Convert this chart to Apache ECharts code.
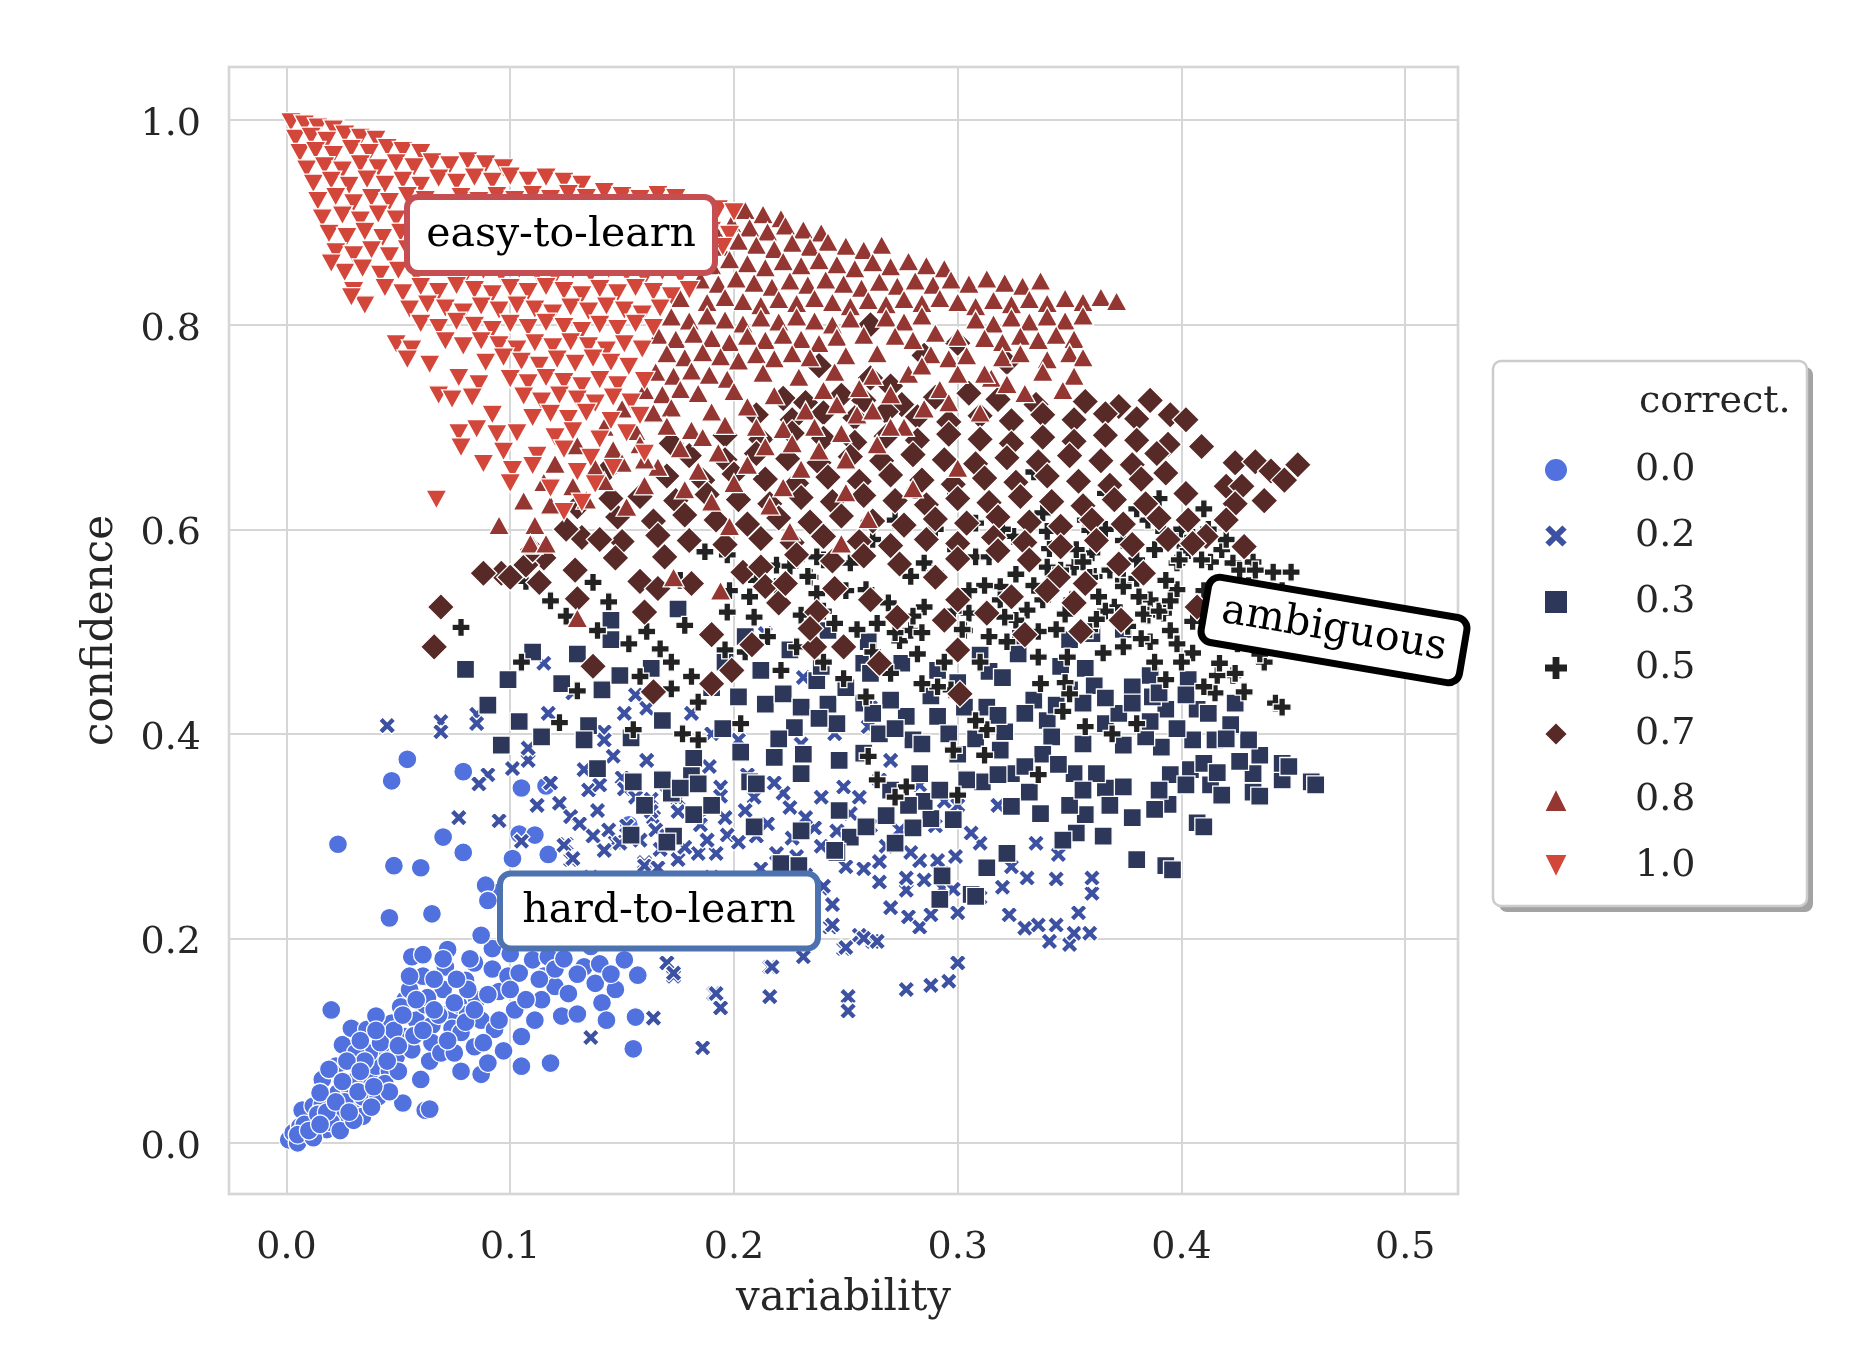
<!DOCTYPE html>
<html><head><meta charset="utf-8">
<script src="https://cdn.jsdelivr.net/npm/echarts@6/dist/echarts.min.js"></script>
<style>html,body{margin:0;padding:0;background:#fff}#c{width:1876px;height:1364px}</style>
</head><body><div id="c"></div>
<script>
const categories = ['0.0','0.2','0.3','0.5','0.7','0.8','1.0'];
const xTickStep = 0.1;
const yTickStep = 0.2;

const pts00 = [[.001,.003],[.003,.010],[.006,.016],[.010,.023],[.007,.032],[.012,.036],[.016,.037],[.018,.013],[.022,.026],[.023,.049],[.028,.054],[.022,.075],[.016,.062],[.029,.039],[.034,.045],[.034,.026],[.037,.062],[.040,.075],[.041,.045],[.044,.091],[.047,.117],[.046,.070],[.025,.096],[.029,.112],[.036,.111],[.040,.124],[.037,.088],[.031,.088],[.043,.101],[.049,.084],[.053,.104],[.053,.140],[.055,.150],[.058,.120],[.060,.062],[.056,.091],[.061,.163],[.062,.135],[.065,.115],[.065,.098],[.064,.080],[.069,.088],[.071,.172],[.070,.150],[.073,.127],[.074,.112],[.075,.088],[.077,.135],[.078,.070],[.080,.159],[.081,.126],[.084,.176],[.084,.094],[.087,.120],[.087,.067],[.090,.078],[.092,.170],[.093,.111],[.095,.148],[.099,.163],[.102,.130],[.105,.075],[.105,.104],[.104,.166],[.110,.179],[.111,.120],[.115,.163],[.117,.182],[.120,.153],[.123,.124],[.126,.146],[.130,.126],[.133,.172],[.138,.156],[.141,.137],[.143,.120],[.147,.150],[.151,.179],[.056,.182],[.061,.184],[.072,.189],[.055,.163],[.051,.133],[.015,.049],[.019,.072],[.005,.000],[.075,.137],[.062,.032],[.052,.039],[.042,.098],[.008,.018],[.014,.028],[.020,.020],[.026,.040],[.030,.060],[.035,.080],[.044,.058],[.050,.070],[.057,.105],[.063,.142],[.068,.125],[.078,.108],[.085,.140],[.092,.190],[.098,.200],[.106,.210],[.112,.200],[.120,.215],[.128,.200],[.136,.192],[.100,.225],[.110,.235],[.095,.245],[.005,.008],[.012,.005],[.018,.030],[.024,.012],[.030,.022],[.038,.035],[.046,.050],[.033,.100],[.027,.080],[.048,.110],[.052,.125],[.066,.160],[.081,.150],[.088,.098],[.097,.090],[.114,.140],[.120,.170],[.054,.375],[.047,.354],[.079,.363],[.023,.292],[.070,.299],[.079,.284],[.048,.271],[.060,.269],[.046,.220],[.065,.224],[.105,.347],[.116,.349],[.104,.302],[.111,.301],[.101,.278],[.117,.282],[.089,.252],[.090,.237],[.087,.203],[.020,.130],[.155,.092],[.118,.078],[.156,.123],[.157,.164],[.064,.033],[.153,.311],[.010,.012],[.015,.018],[.022,.040],[.028,.030],[.032,.050],[.039,.055],[.045,.080],[.050,.095],[.040,.110],[.058,.140],[.061,.110],[.066,.130],[.072,.100],[.076,.160],[.080,.118],[.084,.130],[.090,.145],[.095,.120],[.100,.150],[.107,.140],[.113,.160],[.124,.180],[.130,.165],[.140,.175],[.145,.165],[.025,.060],[.033,.070],[.100,.185],[.082,.180],[.070,.180]];

const pts02 = [[.045,.408],[.069,.412],[.085,.419],[.090,.360],[.077,.318],[.101,.366],[.108,.374],[.164,.122],[.136,.103],[.186,.093],[.170,.176],[.173,.163],[.191,.146],[.194,.132],[.122,.332],[.127,.319],[.125,.292],[.127,.277],[.142,.402],[.150,.357],[.156,.349],[.163,.336],[.164,.318],[.175,.336],[.185,.318],[.194,.348],[.160,.274],[.142,.287],[.147,.294],[.069,.402],[.085,.410],[.115,.469],[.086,.351],[.108,.386],[.133,.365],[.135,.345],[.140,.350],[.142,.394],[.146,.378],[.151,.346],[.156,.338],[.139,.325],[.144,.306],[.142,.286],[.149,.293],[.124,.291],[.128,.278],[.156,.438],[.161,.425],[.151,.420],[.161,.374],[.163,.324],[.165,.306],[.167,.287],[.175,.324],[.185,.311],[.184,.283],[.192,.283],[.189,.368],[.194,.339],[.181,.420],[.202,.394],[.214,.498],[.231,.455],[.209,.338],[.210,.300],[.219,.283],[.225,.328],[.222,.342],[.228,.280],[.236,.308],[.239,.338],[.249,.348],[.239,.290],[.239,.249],[.244,.232],[.243,.211],[.249,.190],[.231,.182],[.216,.172],[.173,.166],[.197,.301],[.202,.294],[.160,.271],[.166,.269],[.175,.277],[.277,.150],[.288,.154],[.296,.158],[.300,.176],[.262,.197],[.256,.203],[.278,.221],[.283,.211],[.288,.223],[.323,.223],[.330,.210],[.336,.213],[.341,.197],[.344,.213],[.350,.194],[.352,.205],[.354,.225],[.359,.205],[.360,.244],[.360,.259],[.344,.258],[.345,.282],[.335,.293],[.331,.259],[.324,.270],[.318,.330],[.310,.293],[.306,.303],[.299,.280],[.293,.249],[.298,.248],[.293,.264],[.291,.276],[.285,.257],[.283,.276],[.277,.247],[.277,.259],[.265,.275],[.265,.255],[.258,.268],[.279,.284],[.274,.306],[.261,.310],[.294,.334],[.256,.338],[.270,.374],[.261,.426],[.260,.407],[.283,.350],[.192,.146],[.216,.143],[.251,.143],[.251,.129],[.217,.172],[.250,.191],[.258,.200],[.264,.197],[.244,.213],[.244,.233],[.240,.251],[.118,.352],[.131,.312],[.137,.300],[.152,.310],[.158,.296],[.170,.300],[.178,.289],[.188,.296],[.196,.318],[.205,.325],[.215,.312],[.226,.298],[.232,.318],[.246,.305],[.252,.322],[.206,.360],[.218,.352],[.230,.365],[.170,.350],[.180,.355],[.212,.268],[.220,.260],[.232,.262],[.250,.270],[.268,.290],[.190,.260],[.200,.250],[.208,.238],[.150,.255],[.182,.240],[.136,.260],[.117,.420],[.128,.440],[.095,.315],[.105,.295],[.112,.330],[.270,.230],[.300,.225],[.310,.240],[.320,.250],[.230,.390],[.245,.400],[.265,.355],[.300,.330],[.290,.310],[.190,.400]];

const pts03 = [[.080,.463],[.099,.453],[.090,.428],[.104,.412],[.096,.389],[.114,.397],[.123,.449],[.141,.443],[.149,.457],[.135,.408],[.133,.394],[.139,.366],[.145,.511],[.145,.492],[.175,.522],[.163,.464],[.168,.413],[.154,.396],[.182,.376],[.181,.359],[.172,.342],[.168,.355],[.184,.351],[.154,.301],[.173,.300],[.182,.321],[.202,.436],[.203,.382],[.207,.353],[.212,.462],[.214,.429],[.222,.439],[.225,.482],[.230,.426],[.231,.380],[.230,.361],[.218,.377],[.227,.406],[.237,.452],[.246,.410],[.247,.374],[.252,.299],[.246,.284],[.247,.325],[.242,.501],[.221,.273],[.229,.271],[.209,.309],[.242,.429],[.239,.466],[.458,.353],[.445,.355],[.445,.371],[.432,.343],[.432,.361],[.435,.379],[.430,.394],[.426,.373],[.415,.394],[.405,.394],[.404,.365],[.410,.371],[.413,.350],[.407,.313],[.393,.271],[.380,.277],[.394,.331],[.388,.326],[.422,.409],[.424,.430],[.407,.424],[.393,.424],[.403,.453],[.387,.436],[.386,.457],[.378,.446],[.391,.387],[.384,.397],[.374,.389],[.374,.348],[.366,.347],[.362,.361],[.352,.361],[.357,.321],[.353,.303],[.347,.296],[.337,.322],[.332,.343],[.324,.361],[.311,.353],[.324,.329],[.313,.269],[.306,.243],[.322,.283],[.298,.316],[.288,.317],[.280,.308],[.272,.293],[.292,.238],[.283,.361],[.280,.394],[.291,.417],[.277,.417],[.270,.433],[.258,.469],[.275,.469],[.291,.462],[.310,.477],[.314,.461],[.328,.495],[.327,.478],[.313,.426],[.303,.426],[.321,.402],[.319,.384],[.334,.433],[.340,.413],[.342,.397],[.350,.492],[.360,.498],[.374,.502],[.357,.464],[.361,.447],[.350,.443],[.366,.410],[.346,.466],[.288,.437],[.261,.459],[.258,.381],[.285,.334],[.396,.267],[.410,.309],[.448,.368],[.460,.350],[.435,.339],[.308,.241],[.293,.261],[.259,.309],[.245,.286],[.210,.351],[.230,.305],[.170,.294],[.176,.347],[.155,.353],[.195,.405],[.190,.445],[.258,.430],[.265,.400],[.300,.450],[.320,.455],[.338,.380],[.350,.330],[.365,.300],[.372,.420],[.395,.360],[.418,.340],[.300,.380],[.270,.345],[.196,.470],[.130,.478],[.110,.480],[.260,.490],[.205,.495],[.190,.330],[.160,.330],[.262,.420],[.272,.405],[.284,.390],[.296,.400],[.308,.395],[.318,.418],[.330,.420],[.344,.428],[.356,.430],[.366,.435],[.378,.430],[.390,.440],[.402,.438],[.412,.420],[.420,.395],[.398,.405],[.386,.412],[.356,.390],[.345,.370],[.330,.368],[.318,.360],[.304,.355],[.292,.345],[.278,.330],[.268,.320],[.356,.345],[.368,.330],[.378,.318],[.390,.345],[.402,.350],[.416,.362],[.250,.445],[.238,.415],[.220,.395]];

const pts05 = [[.078,.504],[.118,.530],[.125,.515],[.107,.549],[.105,.470],[.130,.442],[.122,.411],[.137,.548],[.144,.529],[.139,.501],[.153,.488],[.161,.500],[.167,.483],[.172,.470],[.172,.444],[.158,.456],[.181,.456],[.184,.431],[.177,.400],[.184,.394],[.155,.404],[.178,.506],[.197,.519],[.196,.482],[.203,.410],[.209,.514],[.210,.550],[.221,.462],[.230,.516],[.234,.553],[.240,.570],[.245,.508],[.249,.454],[.237,.537],[.219,.565],[.198,.540],[.187,.578],[.197,.575],[.176,.550],[.207,.534],[.228,.571],[.442,.430],[.428,.441],[.415,.440],[.410,.446],[.423,.457],[.416,.457],[.417,.469],[.405,.479],[.398,.488],[.393,.453],[.386,.490],[.382,.493],[.395,.501],[.392,.518],[.386,.531],[.398,.541],[.393,.550],[.398,.567],[.413,.568],[.423,.567],[.432,.568],[.441,.558],[.449,.558],[.418,.580],[.374,.485],[.365,.479],[.370,.524],[.363,.534],[.361,.554],[.374,.550],[.381,.534],[.385,.516],[.352,.563],[.360,.577],[.341,.581],[.331,.521],[.326,.511],[.338,.531],[.349,.475],[.336,.475],[.337,.449],[.348,.450],[.350,.439],[.347,.422],[.357,.407],[.380,.410],[.369,.400],[.336,.360],[.313,.404],[.308,.413],[.298,.384],[.312,.379],[.300,.340],[.277,.348],[.272,.338],[.264,.355],[.260,.378],[.285,.524],[.297,.443],[.291,.446],[.284,.449],[.274,.491],[.264,.508],[.279,.501],[.305,.518],[.303,.501],[.319,.544],[.308,.573],[.285,.567],[.270,.459],[.259,.436],[.319,.531],[.216,.625],[.281,.638],[.299,.635],[.338,.616],[.357,.609],[.385,.609],[.399,.589],[.403,.579],[.399,.570],[.409,.570],[.426,.560],[.433,.560],[.334,.656],[.366,.635],[.359,.553],[.374,.544],[.366,.520],[.351,.531],[.321,.514],[.299,.580],[.314,.573],[.290,.557],[.279,.554],[.252,.567],[.237,.573],[.225,.564],[.219,.544],[.233,.554],[.259,.541],[.269,.528],[.255,.502],[.272,.499],[.284,.499],[.302,.502],[.314,.495],[.344,.502],[.359,.502],[.383,.517],[.390,.520],[.340,.563],[.353,.580],[.374,.589],[.359,.599],[.325,.593],[.308,.606],[.272,.609],[.445,.426],[.424,.459],[.437,.470],[.430,.500],[.420,.520],[.410,.540],[.400,.600],[.390,.630],[.312,.545],[.326,.556],[.334,.545],[.346,.560],[.356,.568],[.368,.560],[.380,.570],[.388,.580],[.392,.598],[.405,.592],[.412,.600],[.420,.590],[.380,.552],[.395,.530],[.405,.510],[.415,.500],[.425,.488],[.435,.478],[.400,.470],[.388,.470],[.376,.505],[.362,.512],[.348,.517],[.336,.500],[.322,.490],[.310,.470],[.294,.470],[.282,.478],[.320,.600],[.340,.598],[.366,.600],[.380,.620],[.410,.620],[.430,.545],[.445,.540],[.438,.510],[.290,.600],[.262,.590],[.250,.540],[.240,.520],[.205,.480],[.215,.495],[.228,.485],[.240,.470],[.262,.480],[.280,.515],[.298,.520],[.305,.540]];

const pts07 = [[.261,.800],[.300,.782],[.285,.770],[.322,.763],[.261,.748],[.238,.760],[.270,.740],[.222,.728],[.232,.724],[.248,.731],[.258,.726],[.275,.722],[.290,.729],[.305,.733],[.318,.727],[.335,.722],[.357,.725],[.372,.720],[.386,.726],[.210,.712],[.226,.707],[.240,.714],[.254,.709],[.268,.715],[.282,.710],[.296,.705],[.310,.711],[.324,.706],[.338,.712],[.352,.707],[.366,.713],[.380,.708],[.395,.712],[.402,.707],[.196,.692],[.212,.688],[.226,.694],[.240,.689],[.254,.685],[.268,.691],[.282,.687],[.296,.693],[.310,.688],[.324,.684],[.338,.690],[.352,.686],[.366,.692],[.380,.687],[.394,.683],[.409,.681],[.180,.672],[.196,.668],[.210,.674],[.224,.669],[.238,.665],[.252,.671],[.266,.667],[.280,.673],[.294,.668],[.308,.664],[.322,.670],[.336,.666],[.350,.672],[.364,.667],[.378,.663],[.389,.674],[.424,.665],[.433,.666],[.440,.657],[.170,.652],[.186,.648],[.200,.654],[.214,.649],[.228,.645],[.242,.651],[.256,.647],[.270,.653],[.284,.648],[.298,.644],[.312,.650],[.326,.646],[.340,.652],[.354,.647],[.368,.643],[.382,.649],[.393,.655],[.420,.642],[.427,.642],[.158,.632],[.174,.628],[.188,.634],[.202,.629],[.216,.625],[.230,.631],[.244,.627],[.258,.633],[.272,.628],[.286,.624],[.300,.630],[.314,.626],[.328,.632],[.342,.627],[.356,.623],[.370,.629],[.384,.625],[.402,.635],[.424,.625],[.148,.612],[.164,.608],[.178,.614],[.192,.609],[.206,.605],[.220,.611],[.234,.607],[.248,.613],[.262,.608],[.276,.604],[.290,.610],[.304,.606],[.318,.612],[.332,.607],[.346,.603],[.360,.609],[.374,.605],[.390,.611],[.403,.609],[.420,.609],[.132,.592],[.150,.588],[.166,.594],[.180,.589],[.196,.585],[.212,.591],[.226,.587],[.240,.593],[.256,.588],[.270,.584],[.286,.590],[.300,.586],[.316,.592],[.330,.587],[.346,.583],[.362,.589],[.378,.585],[.394,.590],[.411,.593],[.115,.572],[.129,.560],[.147,.572],[.169,.573],[.204,.558],[.212,.563],[.228,.575],[.244,.569],[.258,.574],[.274,.566],[.290,.553],[.300,.571],[.318,.579],[.332,.570],[.345,.553],[.357,.547],[.372,.566],[.383,.557],[.405,.586],[.428,.583],[.096,.557],[.107,.565],[.130,.532],[.158,.549],[.166,.542],[.181,.547],[.214,.544],[.220,.528],[.223,.547],[.245,.542],[.261,.531],[.273,.514],[.300,.531],[.313,.518],[.324,.534],[.340,.540],[.373,.511],[.407,.524],[.352,.528],[.069,.524],[.066,.485],[.137,.466],[.160,.519],[.164,.441],[.190,.497],[.190,.449],[.199,.462],[.208,.487],[.236,.485],[.237,.519],[.249,.485],[.294,.511],[.300,.482],[.265,.469],[.301,.439],[.234,.503],[.330,.497],[.355,.500],[.088,.557],[.100,.553],[.113,.548],[.140,.590],[.125,.600],[.110,.580],[.143,.657],[.172,.684],[.130,.622],[.145,.630],[.452,.663],[.446,.648],[.437,.628]];

const pts08 = [[.205,.912],[.213,.908],[.221,.904],[.183,.898],[.191,.894],[.199,.899],[.207,.895],[.215,.891],[.223,.897],[.231,.893],[.239,.890],[.186,.880],[.194,.876],[.202,.882],[.210,.878],[.218,.874],[.226,.880],[.234,.876],[.242,.881],[.250,.877],[.258,.873],[.266,.878],[.182,.862],[.190,.858],[.198,.864],[.206,.860],[.214,.856],[.222,.862],[.230,.858],[.238,.863],[.246,.859],[.254,.855],[.262,.861],[.270,.857],[.278,.862],[.286,.858],[.294,.855],[.185,.844],[.193,.840],[.201,.845],[.209,.841],[.217,.837],[.225,.843],[.233,.839],[.241,.844],[.249,.840],[.257,.836],[.265,.842],[.273,.838],[.281,.843],[.289,.839],[.297,.844],[.305,.840],[.313,.845],[.321,.841],[.329,.838],[.337,.843],[.176,.826],[.188,.822],[.196,.827],[.204,.823],[.212,.819],[.220,.825],[.228,.821],[.236,.826],[.244,.822],[.252,.818],[.260,.824],[.268,.820],[.276,.825],[.284,.821],[.292,.826],[.300,.822],[.308,.818],[.316,.824],[.324,.820],[.332,.825],[.340,.821],[.348,.826],[.356,.822],[.364,.827],[.371,.823],[.172,.808],[.180,.804],[.188,.809],[.196,.805],[.204,.801],[.212,.807],[.220,.803],[.228,.808],[.236,.804],[.244,.800],[.252,.806],[.268,.807],[.276,.803],[.284,.809],[.308,.805],[.316,.801],[.324,.807],[.332,.803],[.340,.808],[.348,.804],[.356,.809],[.166,.790],[.174,.786],[.182,.791],[.190,.787],[.198,.783],[.206,.789],[.214,.785],[.222,.790],[.230,.786],[.238,.782],[.246,.788],[.272,.789],[.280,.785],[.312,.787],[.320,.783],[.328,.789],[.336,.785],[.344,.790],[.352,.786],[.170,.772],[.178,.768],[.186,.773],[.194,.769],[.202,.765],[.210,.771],[.218,.767],[.226,.772],[.234,.768],[.250,.770],[.288,.771],[.296,.767],[.320,.768],[.328,.772],[.340,.766],[.350,.772],[.356,.768],[.165,.754],[.173,.750],[.181,.755],[.189,.751],[.197,.747],[.213,.753],[.229,.749],[.245,.754],[.262,.750],[.300,.752],[.315,.748],[.338,.754],[.352,.750],[.160,.736],[.168,.732],[.176,.737],[.184,.733],[.200,.735],[.218,.731],[.240,.736],[.270,.732],[.292,.737],[.330,.733],[.347,.736],[.150,.718],[.164,.714],[.172,.719],[.190,.715],[.206,.720],[.232,.716],[.255,.712],[.285,.718],[.310,.714],[.142,.700],[.156,.696],[.170,.701],[.181,.697],[.196,.702],[.222,.698],[.248,.694],[.276,.700],[.130,.682],[.146,.678],[.158,.683],[.176,.679],[.193,.675],[.214,.681],[.238,.677],[.264,.683],[.120,.664],[.138,.660],[.150,.665],[.166,.661],[.184,.657],[.206,.663],[.230,.659],[.115,.646],[.128,.642],[.142,.647],[.160,.643],[.178,.639],[.200,.645],[.222,.641],[.250,.636],[.106,.628],[.118,.624],[.134,.629],[.152,.622],[.190,.627],[.216,.623],[.095,.604],[.111,.604],[.110,.585],[.130,.513],[.198,.603],[.225,.598],[.260,.610],[.280,.640],[.300,.660],[.109,.586],[.116,.586],[.173,.553],[.194,.540],[.248,.586],[.258,.790],[.264,.772],[.290,.792],[.300,.788],[.304,.770],[.278,.752],[.284,.760],[.312,.752],[.322,.742],[.256,.738],[.246,.722],[.262,.716],[.296,.724],[.270,.700],[.236,.700],[.210,.700],[.226,.684],[.250,.668],[.186,.690],[.160,.668]];

const pts10 = [[.002,.998],[.008,.996],[.014,.993],[.021,.991],[.004,.982],[.011,.984],[.018,.980],[.026,.986],[.033,.983],[.040,.981],[.006,.968],[.013,.970],[.021,.966],[.029,.972],[.037,.968],[.045,.973],[.052,.970],[.060,.968],[.009,.952],[.017,.955],[.025,.951],[.033,.957],[.041,.953],[.049,.958],[.057,.954],[.065,.959],[.073,.956],[.081,.960],[.089,.957],[.097,.953],[.012,.938],[.020,.941],[.028,.936],[.036,.942],[.044,.937],[.052,.941],[.060,.936],[.068,.943],[.076,.939],[.084,.944],[.092,.940],[.100,.945],[.108,.941],[.116,.944],[.124,.940],[.132,.937],[.014,.921],[.022,.925],[.030,.919],[.038,.924],[.046,.920],[.054,.926],[.062,.922],[.070,.918],[.078,.925],[.086,.921],[.094,.926],[.102,.922],[.110,.927],[.118,.923],[.126,.928],[.134,.924],[.142,.930],[.150,.926],[.158,.923],[.166,.927],[.174,.924],[.016,.904],[.025,.907],[.033,.902],[.041,.908],[.049,.903],[.145,.909],[.153,.912],[.161,.906],[.169,.911],[.177,.914],[.185,.908],[.193,.913],[.200,.910],[.019,.889],[.027,.886],[.035,.891],[.043,.885],[.051,.890],[.190,.892],[.198,.888],[.022,.871],[.030,.868],[.038,.873],[.046,.867],[.054,.874],[.195,.876],[.188,.869],[.026,.851],[.034,.855],[.042,.849],[.050,.853],[.058,.849],[.064,.856],[.072,.852],[.080,.848],[.088,.853],[.096,.849],[.104,.854],[.112,.850],[.120,.847],[.128,.853],[.136,.849],[.144,.854],[.152,.850],[.160,.846],[.168,.852],[.176,.848],[.030,.833],[.044,.836],[.052,.831],[.060,.837],[.068,.832],[.076,.838],[.084,.834],[.092,.830],[.100,.836],[.108,.832],[.116,.837],[.124,.833],[.132,.829],[.140,.835],[.148,.831],[.156,.836],[.164,.832],[.172,.828],[.180,.834],[.035,.819],[.055,.815],[.063,.820],[.071,.816],[.079,.812],[.087,.818],[.095,.814],[.103,.819],[.111,.815],[.119,.811],[.127,.817],[.135,.813],[.143,.818],[.151,.814],[.159,.810],[.167,.816],[.060,.801],[.068,.797],[.076,.803],[.084,.799],[.092,.795],[.100,.801],[.108,.797],[.116,.802],[.124,.798],[.132,.794],[.140,.800],[.148,.796],[.156,.801],[.164,.797],[.049,.781],[.056,.776],[.071,.784],[.079,.779],[.087,.784],[.095,.780],[.103,.776],[.111,.782],[.119,.778],[.127,.783],[.135,.779],[.143,.775],[.151,.781],[.159,.776],[.054,.766],[.064,.761],[.089,.763],[.097,.768],[.105,.764],[.113,.760],[.121,.766],[.129,.762],[.137,.767],[.145,.763],[.153,.759],[.077,.748],[.086,.742],[.100,.747],[.108,.743],[.116,.748],[.124,.744],[.132,.740],[.140,.746],[.148,.741],[.160,.745],[.068,.731],[.074,.727],[.083,.729],[.106,.730],[.114,.725],[.122,.731],[.130,.727],[.138,.723],[.146,.729],[.154,.724],[.092,.712],[.110,.709],[.118,.713],[.126,.708],[.134,.714],[.145,.706],[.158,.711],[.077,.694],[.085,.698],[.094,.693],[.103,.694],[.120,.690],[.128,.696],[.140,.688],[.152,.694],[.078,.680],[.097,.676],[.112,.672],[.124,.678],[.136,.670],[.160,.674],[.088,.664],[.101,.658],[.110,.662],[.130,.656],[.146,.660],[.100,.645],[.118,.640],[.138,.644],[.124,.617],[.067,.629],[.132,.626],[.029,.827],[.020,.860]];

const seriesPoints = [pts00, pts02, pts03, pts05, pts07, pts08, pts10];

const FONT = 'DejaVu Serif';
const TXT = '#262626';
const PLUS = 'path://M-0.55,-1.5H0.55V-0.55H1.5V0.55H0.55V1.5H-0.55V0.55H-1.5V-0.55H-0.55Z';
const XMARK = 'path://M-1.5,-0.8L-0.8,-1.5L0,-0.7L0.8,-1.5L1.5,-0.8L0.7,0L1.5,0.8L0.8,1.5L0,0.7L-0.8,1.5L-1.5,0.8L-0.7,0Z';
const TRI_DOWN = 'path://M-1,-1H1L0,1Z';
const styles = [
  {symbol:'circle', size:19, color:'#5171df'},
  {symbol:XMARK, size:17, color:'#3d51a2'},
  {symbol:'rect', size:18, color:'#2d3759'},
  {symbol:PLUS, size:18, color:'#222222'},
  {symbol:'diamond', size:27, color:'#582a27'},
  {symbol:'triangle', size:[21,19], color:'#943631'},
  {symbol:TRI_DOWN, size:[21,19], color:'#d3463a'}
];

const isTick = (v, step) => Math.abs(v / step - Math.round(v / step)) < 1e-6;

const series = categories.map((name, i) => ({
  name: name,
  type: 'scatter',
  data: seriesPoints[i],
  symbol: styles[i].symbol,
  symbolSize: styles[i].size,
  itemStyle: {color: styles[i].color, borderColor: '#ffffff', borderWidth: 1.3, opacity: 1},
  emphasis: {disabled: true}
}));

function box(cx, cy, w, h, text, stroke, rot, lw) {
  return {
    type: 'group', x: cx, y: cy, rotation: rot || 0, z: 50,
    children: [
      {type: 'rect', shape: {x: -w/2, y: -h/2, width: w, height: h, r: 11},
       style: {fill: '#ffffff', stroke: stroke, lineWidth: lw}, z: 50},
      {type: 'text', x: 0, y: 0, z: 51,
       style: {text: text, fontFamily: FONT, fontSize: 41, fill: '#000000', align: 'center', verticalAlign: 'middle'}}
    ]
  };
}

const chart = echarts.init(document.getElementById('c'));
chart.setOption({
  animation: false,
  backgroundColor: '#ffffff',
  grid: {left: 229, top: 67, width: 1229, height: 1127, show: true, borderColor: '#cccccc', borderWidth: 2.5},
  xAxis: {
    type: 'value', min: -0.0257, max: 0.5236, splitNumber: 5,
    axisLine: {show: false}, axisTick: {show: false},
    splitLine: {show: true, lineStyle: {color: '#d6d6d6', width: 2}},
    axisLabel: {fontFamily: FONT, fontSize: 38, color: TXT, margin: 35,
      formatter: v => isTick(v, xTickStep) ? v.toFixed(1) : ''},
    name: 'variability', nameLocation: 'middle', nameGap: 84,
    nameTextStyle: {fontFamily: FONT, fontSize: 42, color: TXT}
  },
  yAxis: {
    type: 'value', min: -0.05, max: 1.052, splitNumber: 5,
    axisLine: {show: false}, axisTick: {show: false},
    splitLine: {show: true, lineStyle: {color: '#d6d6d6', width: 2}},
    axisLabel: {fontFamily: FONT, fontSize: 38, color: TXT, margin: 28, verticalAlign: 'top', lineHeight: 10,
      formatter: v => isTick(v, yTickStep) ? v.toFixed(1) : ''},
    name: 'confidence', nameLocation: 'middle', nameGap: 107,
    nameTextStyle: {fontFamily: FONT, fontSize: 42, color: TXT}
  },
  legend: {
    orient: 'vertical', left: 1538, top: 445, z: 10,
    itemWidth: 24, itemHeight: 24, itemGap: 26,
    data: categories,
    textStyle: {fontFamily: FONT, fontSize: 38, color: TXT, lineHeight: 40, padding: [0, 0, 0, 62]},
    selectedMode: false
  },
  graphic: [
    {type: 'rect', shape: {x: 1499, y: 367, width: 314, height: 545, r: 8}, style: {fill: '#a3a3a3'}, z: 1},
    {type: 'rect', shape: {x: 1493, y: 361, width: 314, height: 545, r: 8}, style: {fill: '#ffffff', stroke: '#cccccc', lineWidth: 2.5}, z: 2},
    {type: 'text', x: 1639, y: 402, z: 3, style: {text: 'correct.', fontFamily: FONT, fontSize: 38, fill: TXT, align: 'left', verticalAlign: 'middle'}},
    box(561, 235, 308, 76, 'easy-to-learn', '#c44e52', 0, 6),
    box(659, 911, 318, 75, 'hard-to-learn', '#4c72b0', 0, 6),
    box(1334, 630, 262, 66, 'ambiguous', '#000000', -0.168, 7)
  ],
  series: series
});
</script>
</body></html>
